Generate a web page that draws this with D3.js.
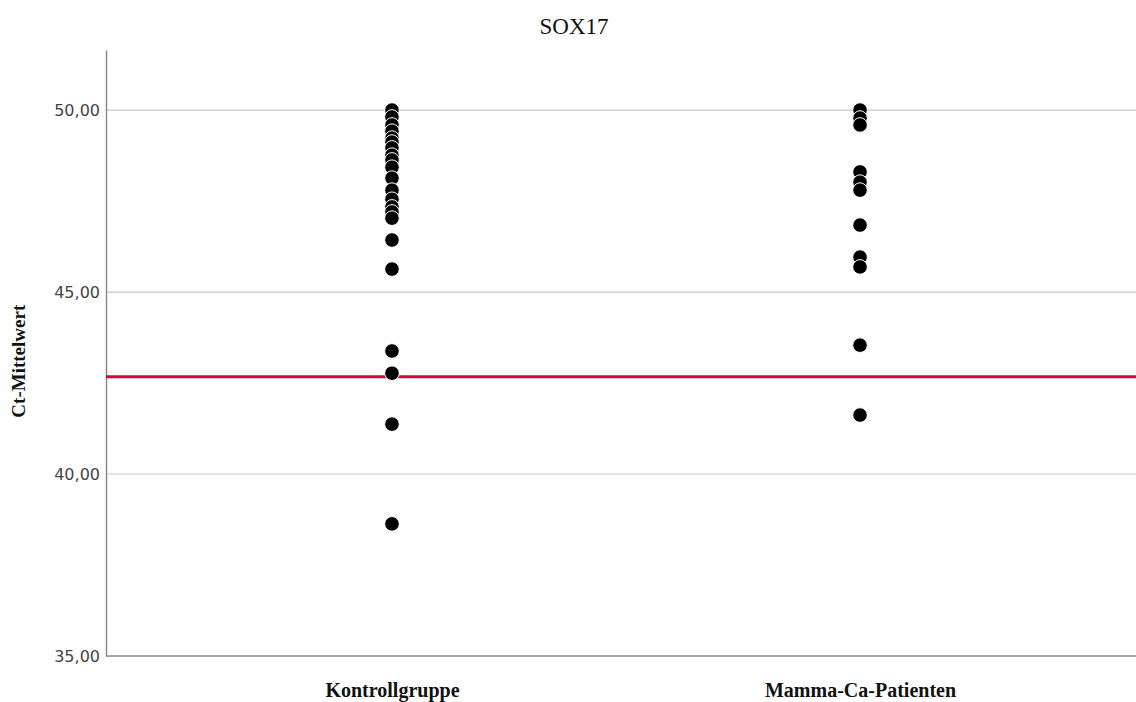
<!DOCTYPE html>
<html><head><meta charset="utf-8">
<script src="https://cdn.jsdelivr.net/npm/d3@7/dist/d3.min.js"></script>
<style>body{margin:0;background:#fff}svg{display:block}</style>
</head><body>
<div id="chart"></div>
<script>
const title = "SOX17";
const yLabel = "Ct-Mittelwert";
const categories = ["Kontrollgruppe", "Mamma-Ca-Patienten"];
const kontrollValues = [50.0, 49.81, 49.59, 49.42, 49.23, 49.12, 48.96, 48.76, 48.63, 48.43, 48.13, 47.80, 47.55, 47.34, 47.20, 47.03, 46.43, 45.63, 43.38, 42.77, 41.37, 38.63];
const mammaValues = [50.0, 49.78, 49.59, 48.30, 48.02, 47.80, 46.84, 45.96, 45.69, 43.54, 41.62];
const yTicks = [35, 40, 45, 50];
const referenceLine = 42.67;

const W = 1136, H = 702;
const svg = d3.select("#chart").append("svg").attr("width", W).attr("height", H);

const y = d3.scaleLinear().domain([35, 51.65]).range([656, 50]);
const x = d3.scalePoint().domain(categories).range([106, 1146]).padding(0.611);

// gridlines
svg.append("g").selectAll("line").data(yTicks.filter(t => t > 35)).join("line")
  .attr("x1", 106).attr("x2", W)
  .attr("y1", d => y(d)).attr("y2", d => y(d))
  .attr("stroke", "#c8c8c8").attr("stroke-width", 1.2);

// y axis
const yAxis = d3.axisLeft(y).tickValues(yTicks).tickSize(0).tickPadding(6)
  .tickFormat(d => d3.format(".2f")(d).replace(".", ","));
const gy = svg.append("g").attr("transform", "translate(106,0)").call(yAxis);
gy.select(".domain").attr("stroke", "#8a8a8a").attr("stroke-width", 1.5);
gy.selectAll("text").attr("font-family", "DejaVu Sans, Verdana, sans-serif")
  .attr("font-size", 16).attr("fill", "#444");

// x axis
const xAxis = d3.axisBottom(x).tickSize(0).tickPadding(27);
const gx = svg.append("g").attr("transform", "translate(0,656)").call(xAxis);
gx.select(".domain").attr("d", `M106,0H${W}`).attr("stroke", "#8a8a8a").attr("stroke-width", 1.5);
gx.selectAll("text").attr("font-family", "Liberation Serif, Times New Roman, serif")
  .attr("font-size", 20).attr("font-weight", "bold").attr("fill", "#111");

// reference line
svg.append("line").attr("x1", 106).attr("x2", W)
  .attr("y1", y(referenceLine)).attr("y2", y(referenceLine))
  .attr("stroke", "#d20a3c").attr("stroke-width", 3);

// points
const pts = [
  ...kontrollValues.map(v => ({c: categories[0], v})),
  ...mammaValues.map(v => ({c: categories[1], v}))
];
svg.append("g").selectAll("circle").data(pts).join("circle")
  .attr("cx", d => x(d.c)).attr("cy", d => y(d.v)).attr("r", 7.3)
  .attr("fill", "#000").attr("stroke", "#fff").attr("stroke-width", 1);

// title
svg.append("text").attr("x", 574).attr("y", 34).attr("text-anchor", "middle")
  .attr("font-family", "Liberation Serif, Times New Roman, serif").attr("font-size", 23)
  .attr("fill", "#111").text(title);

// y label
svg.append("text").attr("transform", `translate(25,${y(43.1)}) rotate(-90)`)
  .attr("text-anchor", "middle")
  .attr("font-family", "Liberation Serif, Times New Roman, serif").attr("font-size", 19)
  .attr("font-weight", "bold").attr("fill", "#111").text(yLabel);
</script>
</body></html>
